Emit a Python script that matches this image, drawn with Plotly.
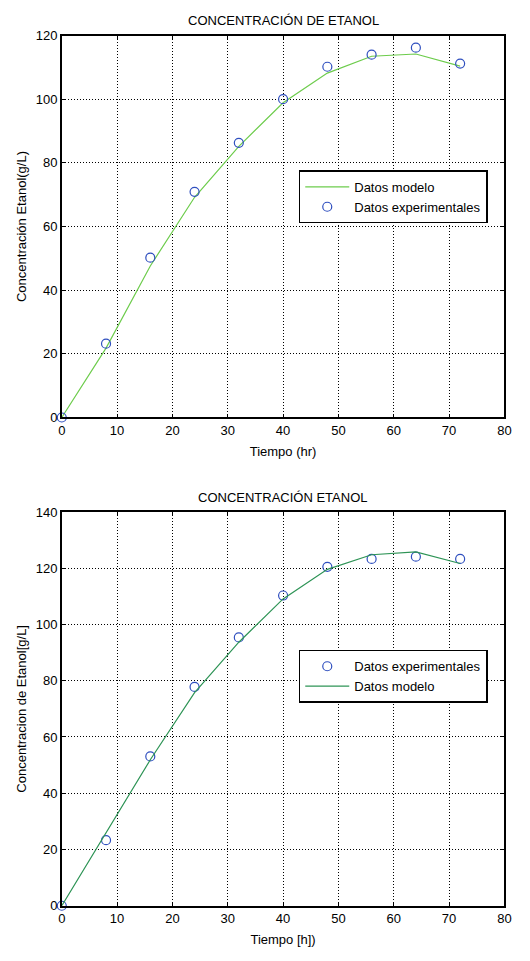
import plotly.graph_objects as go

t = [0, 8, 16, 24, 32, 40, 48, 56, 64, 72]

exp1 = [0, 23.2, 50.2, 70.9, 86.3, 100.0, 110.2, 114.0, 116.2, 111.2]
mod1 = [0, 21.8, 47.6, 69.2, 85.2, 98.9, 108.2, 113.5, 114.2, 110.4]

exp2 = [0, 23.3, 53.1, 77.8, 95.4, 110.3, 120.5, 123.3, 124.1, 123.3]
mod2 = [0, 25.7, 51.9, 75.8, 93.7, 109.1, 119.6, 124.8, 125.8, 121.7]

W, H = 530, 961
FONT = "Liberation Sans, Arial, sans-serif"

def py(p):
    return 1 - p / H

def px(p):
    return p / W

fig = go.Figure()

mk = dict(symbol="circle-open", size=9, color="#2f4fbf", line=dict(width=1.2))

fig.add_trace(go.Scatter(x=t, y=mod1, mode="lines", name="Datos modelo",
                         line=dict(color="#6dcc4c", width=1.2),
                         xaxis="x", yaxis="y", legend="legend"))
fig.add_trace(go.Scatter(x=t, y=exp1, mode="markers", name="Datos experimentales",
                         marker=mk, cliponaxis=False,
                         xaxis="x", yaxis="y", legend="legend"))

fig.add_trace(go.Scatter(x=t, y=exp2, mode="markers", name="Datos experimentales",
                         marker=mk, cliponaxis=False,
                         xaxis="x2", yaxis="y2", legend="legend2"))
fig.add_trace(go.Scatter(x=t, y=mod2, mode="lines", name="Datos modelo",
                         line=dict(color="#2e9456", width=1.2),
                         xaxis="x2", yaxis="y2", legend="legend2"))

axcommon = dict(showline=True, linecolor="black", linewidth=1.5, mirror="ticks",
                ticks="inside", ticklen=4, tickcolor="black",
                showgrid=True, gridcolor="black", griddash="1px,2px", gridwidth=1,
                zeroline=False, tickfont=dict(family=FONT, size=13, color="black"))

xd = [px(59), px(511)]
fig.update_layout(
    width=W, height=H,
    margin=dict(l=0, r=0, t=0, b=0),
    paper_bgcolor="white", plot_bgcolor="white",
    font=dict(family=FONT, color="black"),
    xaxis=dict(domain=xd, range=[0, 80], dtick=10, anchor="y",
               title=dict(text="Tiempo (hr)", font=dict(size=13), standoff=10), **axcommon),
    yaxis=dict(domain=[py(417), py(29)], range=[0, 120], dtick=20, anchor="x",
               title=dict(text="Concentración Etanol(g/L)", font=dict(size=13), standoff=6), **axcommon),
    xaxis2=dict(domain=xd, range=[0, 80], dtick=10, anchor="y2",
                title=dict(text="Tiempo [h])", font=dict(size=13), standoff=10), **axcommon),
    yaxis2=dict(domain=[py(913), py(513)], range=[0, 140], dtick=20, anchor="x2",
                title=dict(text="Concentracion de Etanol[g/L]", font=dict(size=13), standoff=6), **axcommon),
    legend=dict(x=px(301), y=py(166), xanchor="left", yanchor="top",
                bgcolor="white", bordercolor="black", borderwidth=1.5,
                font=dict(family=FONT, size=13), tracegroupgap=0,
                itemwidth=44),
    legend2=dict(x=px(301), y=py(653), xanchor="left", yanchor="top",
                 bgcolor="white", bordercolor="black", borderwidth=1.5,
                 font=dict(family=FONT, size=13), tracegroupgap=0,
                 itemwidth=44),
    showlegend=True,
    annotations=[
        dict(text="CONCENTRACIÓN DE ETANOL", x=(xd[0] + xd[1]) / 2, y=py(14),
             xref="paper", yref="paper", showarrow=False, xanchor="center", yanchor="middle",
             font=dict(family=FONT, size=13)),
        dict(text="CONCENTRACIÓN ETANOL", x=(xd[0] + xd[1]) / 2, y=py(498),
             xref="paper", yref="paper", showarrow=False, xanchor="center", yanchor="middle",
             font=dict(family=FONT, size=13)),
    ],
)

fig.write_html("out.html")
